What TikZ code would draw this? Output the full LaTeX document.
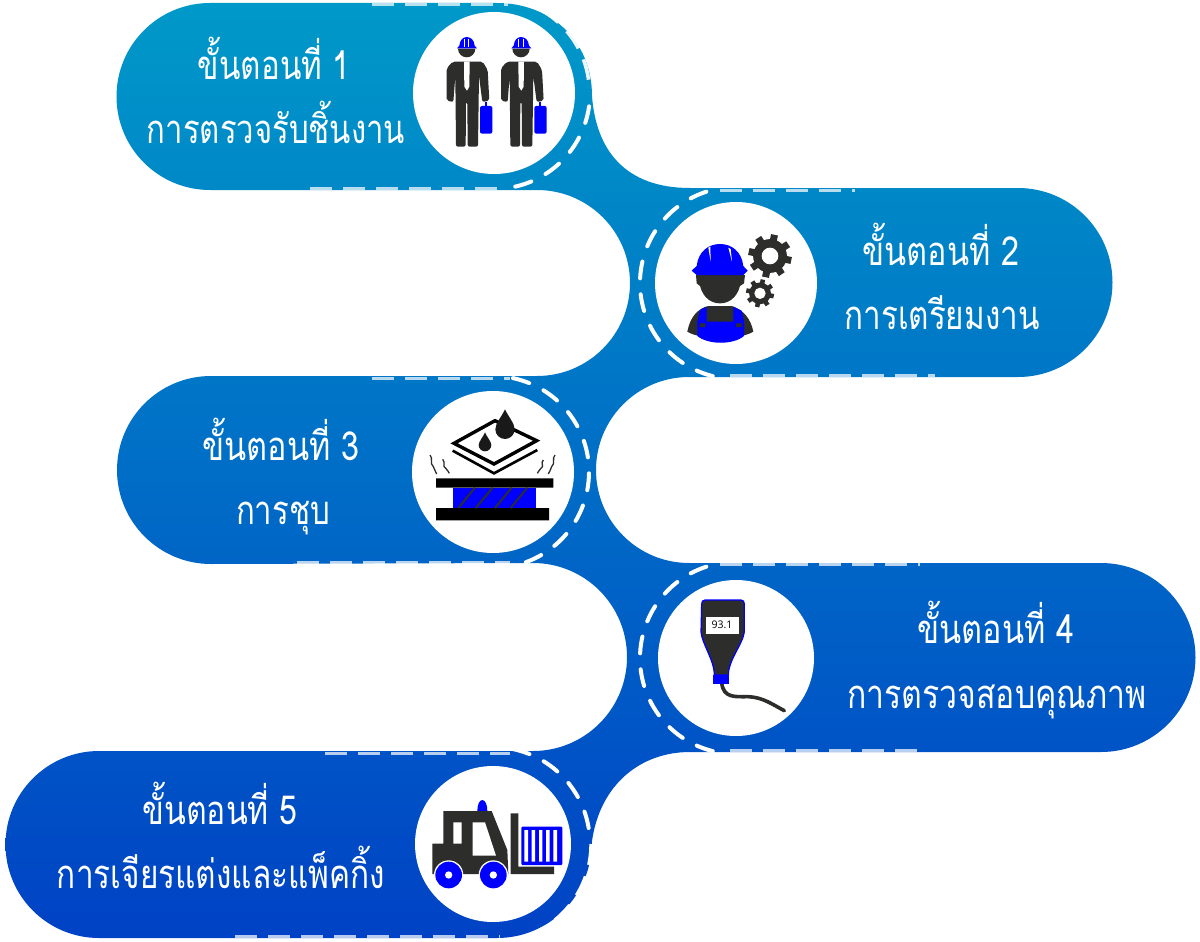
\documentclass[tikz,border=0pt]{standalone}
\usepackage{fontspec}
\usepackage{graphicx}
\newfontfamily\thaifont[Script=Thai]{Loma}
\newfontfamily\gaugefont{Open Sans}
\definecolor{flowtop}{RGB}{0,153,200}
\definecolor{flowbot}{RGB}{0,66,197}
\definecolor{ink}{RGB}{45,45,43}
\definecolor{iconblue}{RGB}{0,0,255}
\newcommand\thlabel[4]{\node[thtext] (#4) at (#1) {\resizebox{#2pt}{\height}{#3}};}
\newcommand\gearicon[4]{%
  \foreach \a in {0,45,...,315}{\draw[ink,line width=#4pt] (#1) ++(\a+12:#2*0.7) -- ++(\a+12:#2*0.3);}
  \fill[ink] (#1) circle[radius=#2*0.78];
  \fill[white] (#1) circle[radius=#3];
}
\newcommand\mannicon[1]{%
  \begin{scope}[xshift=#1]
  \fill[ink,rounded corners=2pt] (140,302)--(140,205)--(158,185)--(248,185)--(263,210)--(268,302)--(247,306)--(237,228)--(234,440)--(203,440)--(202,306)--(198,306)--(197,440)--(168,440)--(166,228)--(160,306)--cycle;
  \fill[white] (192,185)--(209,185)--(208,260)--(201,272)--(193,260)--cycle;
  \fill[iconblue,rounded corners=2pt] (240,318) rectangle (277,401);
  \draw[iconblue,line width=2pt] (258,318)--(258,306);
  \fill[ink] (174,146) arc[start angle=180,end angle=0,radius=26]--cycle;
  \fill[iconblue] (171,145)--(178,137) .. controls (180,118) and (190,112) .. (200,111) .. controls (212,112) and (222,118) .. (224,137)--(231,145)--cycle;
  \draw[white,line width=.5pt] (193,118)--(193,140) (206,118)--(206,140);
  \end{scope}
}
\tikzset{
  stepdisc/.style={circle,fill=white,draw=none,inner sep=0pt,minimum size=#1},
  thtext/.style={anchor=base,text=white,inner sep=0pt,font=\thaifont\fontsize{40}{40}\selectfont},
  arcdash/.style={white,line width=4pt,line cap=round,dash pattern=on 17pt off 16pt},
  arcedge/.style={white,opacity=.92,line width=3.6pt,dash pattern=on 21pt off 12pt},
  edgedash/.style={white,opacity=.72,line width=3pt,dash pattern=on 22pt off 11pt},
}
\begin{document}
\begin{tikzpicture}[x=1pt,y=1pt,yscale=-1]
\useasboundingbox (0,0) rectangle (1200,942);
% ribbon
\shade[top color=flowtop,bottom color=flowbot]
 (210,3) -- (497,3) .. controls (550,3) and (592,40) .. (592,96)
 .. controls (596,150) and (625,188) .. (690,188)
 -- (1018,188) arc[start angle=-90,end angle=90,radius=94.5]
 -- (689,377) arc[start angle=-90,end angle=-270,radius=93]
 -- (1101,563) arc[start angle=-90,end angle=90,radius=94.5]
 -- (690,752) .. controls (640,752) and (600,785) .. (592,841)
 .. controls (592,895) and (550,938) .. (497,938)
 -- (99,938) arc[start angle=90,end angle=270,radius=93.5]
 -- (533,751) arc[start angle=90,end angle=-90,radius=94]
 -- (211,564) arc[start angle=90,end angle=270,radius=94]
 -- (537,376) arc[start angle=90,end angle=-90,radius=93]
 -- (210,190) arc[start angle=90,end angle=270,radius=93.5] -- cycle;
% discs
\node[stepdisc=162pt] (d1) at (494,93) {};
\node[stepdisc=162pt] (d2) at (736,283) {};
\node[stepdisc=162pt] (d3) at (493,472) {};
\node[stepdisc=156pt] (d4) at (736,658) {};
\node[stepdisc=156pt] (d5) at (493,844) {};
% dashed arcs
\draw[arcedge] (d1) ++(-80:95.5) arc[start angle=-80,end angle=-2,radius=95.5];
\draw[arcdash] (d1) ++(8:96) arc[start angle=8,end angle=78,radius=96];
\draw[arcdash] (d2) ++(104:96) arc[start angle=104,end angle=258,radius=96];
\draw[arcdash] (d3) ++(-78:96) arc[start angle=-78,end angle=78,radius=96];
\draw[arcdash] (d4) ++(104:96) arc[start angle=104,end angle=258,radius=96];
\draw[arcdash] (d5) ++(-78:97) arc[start angle=-78,end angle=-8,radius=97];
\draw[white,line width=3.4pt,dash pattern=on 21pt off 12pt] (d5) ++(0:98) arc[start angle=0,end angle=72,radius=98];
% edge dashes
\draw[edgedash] (372,4.5)--(508,4.5);
\draw[edgedash] (310,188.5)--(508,188.5);
\draw[edgedash] (720,190)--(855,190);
\draw[edgedash] (730,375)--(935,375);
\draw[edgedash] (372,378)--(510,378);
\draw[edgedash] (297,562.5)--(510,562.5);
\draw[edgedash] (720,564.5)--(920,564.5);
\draw[edgedash] (730,750)--(920,750);
\draw[edgedash] (325,753)--(510,753);
\draw[edgedash] (235,936.5)--(500,936.5);
% labels
\thlabel{274,80}{152}{ขั้นตอนที่ 1}{t1a}
\thlabel{276,143}{258}{การตรวจรับชิ้นงาน}{t1b}
\thlabel{941,265}{157}{ขั้นตอนที่ 2}{t2a}
\thlabel{942,329}{195}{การเตรียมงาน}{t2b}
\thlabel{281,460}{157}{ขั้นตอนที่ 3}{t3a}
\thlabel{283,524}{94}{การชุบ}{t3b}
\thlabel{996,643}{157}{ขั้นตอนที่ 4}{t4a}
\thlabel{997,708}{299}{การตรวจสอบคุณภาพ}{t4b}
\thlabel{220,824}{155}{ขั้นตอนที่ 5}{t5a}
\thlabel{221,888}{328}{การเจียรแต่งและแพ็คกิ้ง}{t5b}
% icon 1
\begin{scope}[shift={(400,0)},scale=1/3]
\mannicon{0pt}
\mannicon{163}
\end{scope}
% icon 2
\begin{scope}[shift={(580,180)},scale=1/3]
\fill[ink] (322,455) .. controls (330,410) and (355,385) .. (385,378) -- (455,378) .. controls (490,390) and (512,415) .. (520,455) .. controls (480,480) and (360,480) .. (322,455) -- cycle;
\fill[iconblue] (352,425)--(360,390)--(380,380)--(380,425)--(460,425)--(460,380)--(485,392)--(492,425)--(492,468) .. controls (460,495) and (385,495) .. (352,468) -- cycle;
\fill[ink] (360,430) rectangle (376,441) (468,430) rectangle (485,441);
\fill[ink] (348,285) -- (495,285) -- (492,310) -- (480,318) .. controls (470,355) and (445,370) .. (420,370) .. controls (395,370) and (370,355) .. (360,318) -- (350,310) -- cycle;
\fill[iconblue] (335,272) -- (350,258) .. controls (355,215) and (385,192) .. (420,192) .. controls (455,192) and (485,215) .. (490,258) -- (503,272) -- (490,285) -- (350,285) -- cycle;
\fill[white] (385,203) -- (391,200) -- (392,245) -- cycle (445,203) -- (452,207) -- (456,245) -- cycle;
\gearicon{570,228}{65}{25}{7}
\gearicon{540,340}{42}{17}{4.5}
\end{scope}
% icon 3
\begin{scope}[shift={(390,370)},scale=1/3]
\draw[black,line width=2.6pt,line join=miter] (188,242)--(312,310)--(442,240);
\draw[black,line width=3.4pt,line join=miter] (192,220)--(315,152)--(440,212)--(312,282)--cycle;
\fill[black!90] (345,118) .. controls (355,140) and (374,160) .. (374,178) arc[start angle=0,end angle=180,radius=29] .. controls (316,160) and (335,140) .. (345,118) -- cycle;
\fill[black!90] (285,187) .. controls (290,200) and (304,215) .. (304,225) arc[start angle=0,end angle=180,radius=19] .. controls (266,215) and (280,200) .. (285,187) -- cycle;
\fill[iconblue] (188,353) rectangle (437,414);
\fill[black] (138,325) rectangle (490,353) (138,414) rectangle (477,451);
\draw[ink,line width=2pt] (205,414)--(255,353) (257,414)--(308,353) (315,414)--(365,353) (362,414)--(412,353);
\draw[ink,line width=1.3pt] (120,255) .. controls (130,265) and (118,280) .. (130,290) .. controls (138,298) and (132,305) .. (140,312);
\draw[ink,line width=1.3pt] (158,268) .. controls (168,278) and (155,288) .. (168,296) .. controls (175,300) and (172,305) .. (178,310);
\draw[ink,line width=1.3pt] (495,255) .. controls (485,265) and (497,280) .. (485,290) .. controls (478,298) and (483,305) .. (475,312);
\draw[ink,line width=1.3pt] (460,270) .. controls (450,280) and (465,288) .. (452,296) .. controls (445,300) and (448,305) .. (442,310);
\end{scope}
% icon 4
\begin{scope}[shift={(620,560)},scale=1/3]
\draw[ink,line width=3.6pt,line cap=round] (305,368) .. controls (310,415) and (345,410) .. (385,410) .. controls (430,412) and (460,435) .. (493,452);
\fill[ink,draw=iconblue,line width=1.2pt] (255,120) -- (363,120) .. controls (370,120) and (373,125) .. (373,132) -- (373,215) .. controls (370,250) and (325,300) .. (325,345) -- (283,345) .. controls (283,300) and (245,250) .. (243,215) -- (245,132) .. controls (245,125) and (248,120) .. (255,120) -- cycle;
\fill[iconblue] (280,345) rectangle (328,371);
\node[fill=white,minimum width=33pt,minimum height=17pt,inner sep=0pt,font=\gaugefont\fontsize{10.5}{10.5}\selectfont] (gaugeread) at (306,195) {93.1};
\end{scope}
% icon 5
\begin{scope}[shift={(390,745)},scale=1/3]
\fill[iconblue] (262,198) .. controls (262,180) and (268,165) .. (277,165) .. controls (286,165) and (292,180) .. (292,198) -- cycle;
\fill[ink] (160,198) -- (305,198) -- (352,315) -- (355,387) -- (127,387) -- (127,296) -- (160,296) -- cycle;
\fill[white] (190,232) rectangle (215,296) (248,232) -- (285,232) -- (318,332) -- (248,332) -- cycle;
\fill[ink] (362,205) -- (385,205) -- (385,365) -- (492,365) -- (492,387) -- (362,387) -- cycle;
\fill[iconblue,rounded corners=1pt] (394,245) rectangle (517,360);
\fill[white] (403,255) rectangle (414,350) (425,255) rectangle (435,350) (447,255) rectangle (457,350) (468,255) rectangle (479,350) (490,255) rectangle (501,350);
\foreach \wx in {176,310}{
  \fill[white] (\wx,390) circle[radius=44];
  \fill[iconblue] (\wx,390) circle[radius=40];
  \fill[white] (\wx,390) circle[radius=11];
}
\end{scope}
\end{tikzpicture}
\end{document}
